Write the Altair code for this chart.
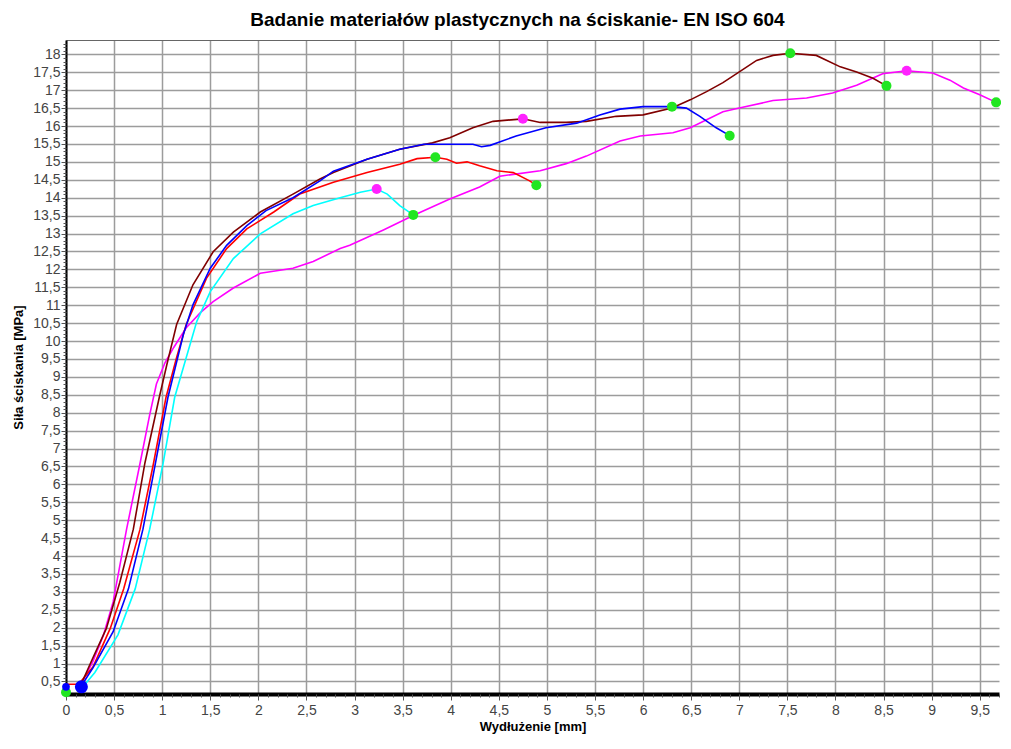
import altair as alt
import pandas as pd

# ---------------- data ----------------
magenta_x = [0.15, 0.28, 0.39, 0.49, 0.63, 0.77, 0.87, 0.94, 1.03, 1.12, 1.25, 1.40, 1.53, 1.74, 2.02, 2.36,
             2.57, 2.85, 2.95, 3.30, 3.61, 3.99, 4.30, 4.51, 4.93, 5.20, 5.41, 5.76, 5.97, 6.31, 6.49, 6.83,
             7.00, 7.35, 7.70, 7.97, 8.22, 8.49, 8.74, 9.01, 9.19, 9.33, 9.50, 9.67]
magenta_y = [0.38, 1.06, 1.80, 2.72, 4.75, 6.59, 7.94, 8.80, 9.40, 9.82, 10.37, 10.80, 11.10, 11.48, 11.89, 12.03,
             12.22, 12.58, 12.67, 13.10, 13.50, 13.96, 14.30, 14.60, 14.75, 14.95, 15.16, 15.58, 15.72, 15.81, 15.95, 16.40,
             16.50, 16.71, 16.78, 16.92, 17.14, 17.46, 17.54, 17.48, 17.28, 17.06, 16.87, 16.66]

brown_x = [0.15, 0.28, 0.42, 0.56, 0.70, 0.82, 0.97, 1.05, 1.15, 1.32, 1.53, 1.74, 2.02, 2.36, 2.64, 2.78,
           3.13, 3.47, 3.81, 3.99, 4.23, 4.44, 4.75, 4.93, 5.20, 5.41, 5.72, 6.00, 6.30, 6.49, 6.66, 6.83,
           7.00, 7.18, 7.35, 7.53, 7.80, 8.05, 8.22, 8.39, 8.53]
brown_y = [0.38, 1.16, 1.98, 3.27, 4.75, 6.59, 8.43, 9.36, 10.46, 11.57, 12.49, 13.04, 13.60, 14.10, 14.52, 14.70,
           15.07, 15.35, 15.53, 15.67, 15.95, 16.13, 16.20, 16.10, 16.10, 16.13, 16.27, 16.31, 16.50, 16.73, 16.96, 17.21,
           17.51, 17.83, 17.97, 18.03, 17.97, 17.65, 17.51, 17.33, 17.12]

blue_x = [0.15, 0.28, 0.49, 0.65, 0.80, 0.93, 1.06, 1.22, 1.32, 1.50, 1.67, 1.88, 2.08, 2.36, 2.64, 2.78,
          3.13, 3.47, 3.72, 4.23, 4.32, 4.41, 4.68, 4.99, 5.31, 5.55, 5.76, 6.00, 6.30, 6.45, 6.59, 6.76, 6.90]
blue_y = [0.34, 0.88, 1.89, 3.09, 4.75, 6.59, 8.43, 10.18, 11.01, 12.03, 12.67, 13.22, 13.64, 14.00, 14.47, 14.74,
          15.07, 15.35, 15.49, 15.49, 15.42, 15.46, 15.72, 15.95, 16.08, 16.31, 16.47, 16.54, 16.54, 16.50, 16.27, 15.95, 15.73]

red_x = [0.00, 0.13, 0.28, 0.46, 0.60, 0.77, 0.91, 1.04, 1.15, 1.25, 1.46, 1.67, 1.88, 2.16, 2.43, 2.78,
         3.13, 3.47, 3.65, 3.84, 3.96, 4.06, 4.17, 4.30, 4.48, 4.65, 4.82, 4.89]
red_y = [0.42, 0.42, 0.90, 1.98, 3.09, 4.75, 6.59, 8.43, 9.54, 10.46, 11.75, 12.58, 13.13, 13.60, 14.10, 14.43,
         14.70, 14.93, 15.09, 15.13, 15.07, 14.96, 15.00, 14.89, 14.75, 14.70, 14.47, 14.35]

cyan_x = [0.17, 0.30, 0.54, 0.72, 0.87, 1.01, 1.13, 1.22, 1.36, 1.50, 1.74, 2.02, 2.36, 2.57, 2.85, 3.06,
          3.23, 3.34, 3.47, 3.61]
cyan_y = [0.33, 0.75, 1.80, 3.09, 4.75, 6.59, 8.43, 9.26, 10.55, 11.38, 12.30, 12.99, 13.55, 13.78, 14.00, 14.15,
          14.24, 14.10, 13.78, 13.52]

series_names = ["magenta", "cyan", "red", "brown", "blue"]
series_colors = ["#FF00FF", "#00FFFF", "#FF0000", "#800000", "#0000FF"]
series_xy = [(magenta_x, magenta_y), (cyan_x, cyan_y), (red_x, red_y), (brown_x, brown_y), (blue_x, blue_y)]

green_x = [0.00, 3.84, 4.89, 3.61, 6.30, 6.90, 7.53, 8.53, 9.67]
green_y = [0.20, 15.13, 14.35, 13.52, 16.54, 15.73, 18.03, 17.12, 16.66]
pink_x = [3.23, 4.75, 8.74]
pink_y = [14.24, 16.20, 17.54]
blue_pt_x = [0.00, 0.16]
blue_pt_y = [0.35, 0.35]
blue_pt_size = [60, 170]

x_major = [i * 0.5 for i in range(0, 20)]
x_minor = [round(i * 0.1, 1) for i in range(0, 98)]
y_major = [i * 0.5 for i in range(1, 37)]
y_minor = [round(i * 0.1, 1) for i in range(2, 184)]

# ---------------- tables ----------------
rows = []
for name, (xs, ys) in zip(series_names, series_xy):
    for i, (xv, yv) in enumerate(zip(xs, ys)):
        rows.append({"series": name, "x": xv, "y": yv, "order": i})
lines_df = pd.DataFrame(rows)

mk = []
for xv, yv in zip(green_x, green_y):
    mk.append({"x": xv, "y": yv, "c": "#22E622", "s": 100})
for xv, yv in zip(pink_x, pink_y):
    mk.append({"x": xv, "y": yv, "c": "#FF22FF", "s": 100})
for xv, yv, sv in zip(blue_pt_x, blue_pt_y, blue_pt_size):
    mk.append({"x": xv, "y": yv, "c": "#0000FF", "s": sv})
marks_df = pd.DataFrame(mk)

FONT = "Liberation Sans"
X_DOM = [0, 9.7]
Y_DOM = [0.15, 18.4]
xs_ = alt.Scale(domain=X_DOM, nice=False, zero=False)
ys_ = alt.Scale(domain=Y_DOM, nice=False, zero=False)
label_expr = "replace(format(datum.value, '.1~f'), '.', ',')"

x_axis = alt.Axis(values=x_major, orient="bottom", grid=True, gridColor="#9c9c9c", gridWidth=1.5,
                  domain=True, domainColor="#000000", domainWidth=4, ticks=True, tickColor="#555555",
                  tickSize=6, tickWidth=1, labelExpr=label_expr, labelFont=FONT, labelFontSize=14,
                  labelColor="#444444", labelPadding=3, labelFlush=False, labelOverlap=False,
                  title="Wydłużenie [mm]", titleFont=FONT, titleFontSize=13, titleFontWeight="bold",
                  titleColor="#000000", titlePadding=3)
y_axis = alt.Axis(values=y_major, orient="left", grid=True, gridColor="#9c9c9c", gridWidth=1.5,
                  domain=True, domainColor="#000000", domainWidth=2, ticks=True, tickColor="#555555",
                  tickSize=5, tickWidth=1, labelExpr=label_expr, labelFont=FONT, labelFontSize=14,
                  labelColor="#444444", labelPadding=1, labelFlush=False, labelOverlap=False,
                  title="Siła ściskania [MPa]", titleFont=FONT, titleFontSize=13, titleFontWeight="bold",
                  titleColor="#000000", titlePadding=7)

lines = alt.Chart(lines_df).mark_line(strokeWidth=1.6, interpolate="linear").encode(
    x=alt.X("x:Q", scale=xs_, axis=x_axis),
    y=alt.Y("y:Q", scale=ys_, axis=y_axis),
    color=alt.Color("series:N", scale=alt.Scale(domain=series_names, range=series_colors), legend=None),
    order=alt.Order("order:Q"),
    detail="series:N",
)

minor = alt.Chart(lines_df).mark_point(opacity=0).encode(
    x=alt.X("x:Q", scale=xs_, axis=alt.Axis(values=x_minor, orient="bottom", grid=False, domain=False,
                                               labels=False, ticks=True, tickSize=3, tickColor="#555555",
                                               title=None)),
    y=alt.Y("y:Q", scale=ys_, axis=alt.Axis(values=y_minor, orient="left", grid=False, domain=False,
                                               labels=False, ticks=True, tickSize=3, tickColor="#555555",
                                               title=None)),
)

border = alt.Chart(lines_df).mark_point(opacity=0).encode(
    x=alt.X("x:Q", scale=xs_, axis=alt.Axis(orient="top", grid=False, domain=True, domainColor="#666666",
                                               domainWidth=1, labels=False, ticks=False, title=None)),
    y=alt.Y("y:Q", scale=ys_, axis=None),
)

points = alt.Chart(marks_df).mark_point(filled=True, opacity=1, shape="circle").encode(
    x=alt.X("x:Q", scale=xs_, axis=None),
    y=alt.Y("y:Q", scale=ys_, axis=None),
    color=alt.Color("c:N", scale=None),
    size=alt.Size("s:Q", scale=None),
)

chart = alt.layer(lines, minor, border, points).resolve_axis(x="independent", y="independent").properties(
    width=933, height=654,
    autosize=alt.AutoSizeParams(type="none"),
    padding={"left": 58, "top": 32, "right": 2, "bottom": 42},
    title=alt.TitleParams("Badanie materiałów plastycznych na ściskanie- EN ISO 604", font=FONT,
                          fontSize=19, fontWeight="bold", color="#000000", anchor="middle",
                          offset=10, dx=-15),
).configure_view(stroke=None)

chart.save("out.html", embed_options={"renderer": "svg", "actions": False})
